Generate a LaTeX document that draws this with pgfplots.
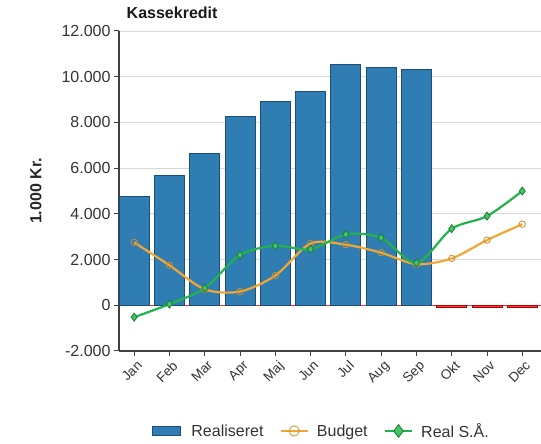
\documentclass[border=0pt]{standalone}
\usepackage{pgfplots}
\pgfplotsset{compat=1.18}
\usepackage{fontspec}
\setmainfont{Liberation Sans}
\usetikzlibrary{calc}
\definecolor{barblue}{HTML}{2F7DB3}
\definecolor{baredge}{HTML}{1B4F78}
\definecolor{budorange}{HTML}{F2A733}
\definecolor{budfill}{HTML}{F7C56A}
\definecolor{realgreen}{HTML}{22B24C}
\definecolor{realfill}{HTML}{45C466}
\definecolor{txt}{HTML}{333333}
\begin{document}
\begin{tikzpicture}[x=1pt,y=1pt]
\begin{axis}[
  name=ax,
  scale only axis,
  width=422pt, height=320pt,
  xmin=-0.43, xmax=11.53,
  ymin=-2000, ymax=12000,
  ytick={-2000,0,2000,4000,6000,8000,10000,12000},
  scaled y ticks=false,
  xtick={0,...,11},
  xticklabels={Jan,Feb,Mar,Apr,Maj,Jun,Jul,Aug,Sep,Okt,Nov,Dec},
  x tick label style={rotate=45,anchor=north east,font=\fontsize{13.5}{15}\selectfont,text=txt, inner sep=1pt, yshift=-3pt},
  y tick label style={font=\fontsize{16}{18}\selectfont,text=txt},
  /pgf/number format/1000 sep={.},
  /pgf/number format/assume math mode=true,
  axis x line=bottom, axis y line=left,
  axis line style={-, draw=black!75, line width=1.4pt},
  tick align=outside,
  major tick length=5pt,
  tick style={draw=black!75, line width=1pt},
  ymajorgrids,
  grid style={draw=black!15, line width=0.8pt},
  ylabel={\textbf{1.000 Kr.}},
  ylabel style={font=\fontsize{16}{18}\selectfont, text=black!85, at={(axis description cs:-0.175,0.5)}},
  legend style={at={(axis description cs:0.48,-0.25)}, anchor=center, draw=none, fill=none,
    legend columns=3, font=\fontsize{16}{18}\selectfont, text=txt,
    /tikz/every even column/.append style={column sep=14pt}},
  legend cell align=left,
  legend image post style={scale=1.6},
  clip=false,
]
\addplot[red!80, line width=1pt, forget plot] coordinates {(-0.43,0) (11.53,0)};
\addplot[ybar, bar width=30pt, bar shift=0pt, fill=barblue, draw=baredge, line width=0.8pt, area legend]
  coordinates {(0,4750) (1,5680) (2,6640) (3,8250) (4,8900) (5,9350) (6,10520) (7,10400) (8,10300)};
\addlegendentry{\hspace{9pt}Realiseret}
\addplot[ybar, bar width=30pt, bar shift=0pt, fill=red!75, draw=red!70!black, line width=0.5pt, forget plot]
  coordinates {(9,-90) (10,-90) (11,-90)};
\addplot[smooth, color=budorange, line width=2.2pt, mark=o, mark size=3.2pt,
  mark options={fill=budfill, draw=budorange!85!black, line width=0.8pt}]
  coordinates {(0,2750) (1,1750) (2,700) (3,600) (4,1300) (5,2700) (6,2650) (7,2300) (8,1800) (9,2050) (10,2850) (11,3550)};
\addlegendentry{\hspace{6pt}Budget}
\addplot[smooth, color=realgreen, line width=2.2pt, mark=diamond*, mark size=4pt,
  mark options={fill=realfill, draw=realgreen!70!black, line width=0.8pt}]
  coordinates {(0,-520) (1,50) (2,750) (3,2200) (4,2600) (5,2450) (6,3100) (7,2950) (8,1850) (9,3350) (10,3900) (11,5000)};
\addlegendentry{\hspace{6pt}Real S.Å.}
\node[anchor=base west, font=\fontsize{16}{18}\selectfont\bfseries, text=black!90] at (axis description cs:0.01,1) [yshift=12pt] {Kassekredit};
\end{axis}
\pgfresetboundingbox
\path ($(ax.south west)+(-119pt,-93pt)$) rectangle ($(ax.north east)+(0pt,31pt)$);
\end{tikzpicture}
\end{document}
